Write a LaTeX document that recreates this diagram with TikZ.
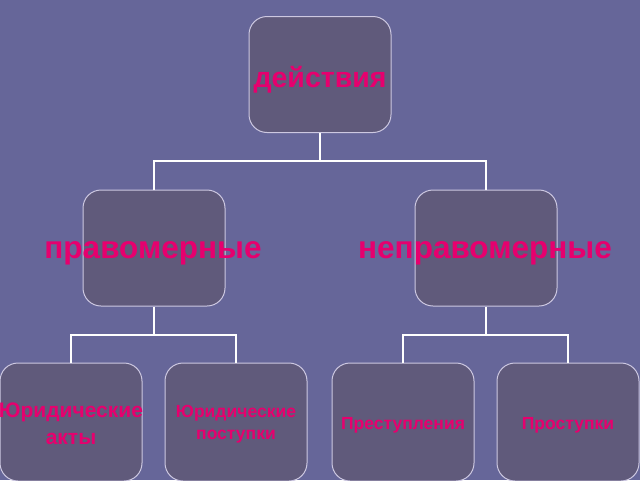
\documentclass[tikz,border=0pt]{standalone}
\usepackage{fontspec}
\setmainfont{Liberation Sans}
\definecolor{bg}{RGB}{102,102,153}
\definecolor{boxfill}{RGB}{96,90,123}
\definecolor{boxline}{RGB}{205,200,225}
\definecolor{txt}{RGB}{230,0,110}
\tikzset{
  box/.style={draw=boxline, line width=1pt, fill=boxfill, rounded corners=18pt, minimum width=142pt, minimum height=116pt, inner sep=0pt},
  lbl/.style={text=txt, font=\bfseries, align=center, inner sep=0pt},
  conn/.style={draw=white, line width=2pt}
}
\begin{document}
\begin{tikzpicture}[x=1pt,y=-1pt]
\fill[bg] (0,0) rectangle (640,480);
\useasboundingbox (0,0) rectangle (640,480);
% boxes
\node[box] (top) at (320,74.5) {};
\node[box] (mL) at (154,248) {};
\node[box] (mR) at (486,248) {};
\node[box, minimum height=118pt] (b1) at (71,422) {};
\node[box, minimum height=118pt] (b2) at (236,422) {};
\node[box, minimum height=118pt] (b3) at (403,422) {};
\node[box, minimum height=118pt] (b4) at (568,422) {};
% connectors
\coordinate (j0) at (320,161);
\coordinate (jL) at (154,335);
\coordinate (jR) at (486,335);
\draw[conn] (top.south) -- (j0);
\draw[conn] (mL.north) |- (j0) -| (mR.north);
\draw[conn] (mL.south) -- (jL);
\draw[conn] (b1.north) |- (jL) -| (b2.north);
\draw[conn] (mR.south) -- (jR);
\draw[conn] (b3.north) |- (jR) -| (b4.north);
% labels
\node[lbl, font=\bfseries\fontsize{28.5}{30}\selectfont] (t0) at (320,80) {действия};
\node[lbl, font=\bfseries\fontsize{31.5}{32}\selectfont] (t1) at (153,253) {правомерные};
\node[lbl, font=\bfseries\fontsize{31.5}{32}\selectfont] (t2) at (485,253) {неправомерные};
\node[lbl, font=\bfseries\fontsize{21}{27}\selectfont] (t3) at (71,424) {Юридические\\акты};
\node[lbl, font=\bfseries\fontsize{17.5}{22}\selectfont] (t4) at (236,424) {Юридические\\поступки};
\node[lbl, font=\bfseries\fontsize{17.5}{20}\selectfont] (t5) at (403,425) {Преступления};
\node[lbl, font=\bfseries\fontsize{17.5}{20}\selectfont] (t6) at (568,425) {Проступки};
\end{tikzpicture}
\end{document}
